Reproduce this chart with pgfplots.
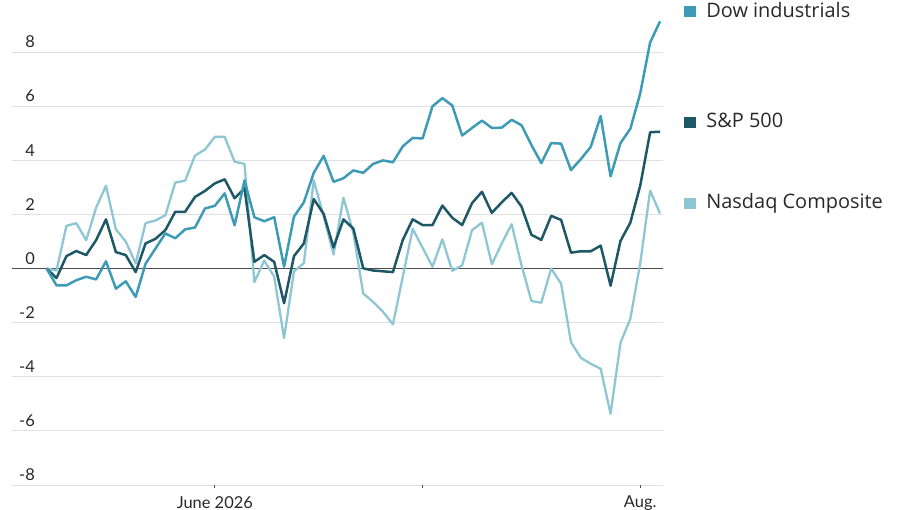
\documentclass[border=0pt]{standalone}
\usepackage{fontspec}
\setmainfont{Lato}
\newfontfamily\legfont{Open Sans}
\usepackage{pgfplots}
\usepackage{pgfplotstable}
\pgfplotsset{compat=1.18}
\definecolor{dow}{RGB}{61,155,181}
\definecolor{spx}{RGB}{30,88,102}
\definecolor{nas}{RGB}{142,198,212}
\definecolor{txt}{RGB}{40,40,40}

\pgfplotstableread{
i dow spx nas
0 0 0 0
1 -0.62 -0.35 -0.07
2 -0.62 0.46 1.58
3 -0.43 0.65 1.68
4 -0.30 0.50 1.05
5 -0.40 1.05 2.25
6 0.27 1.82 3.06
7 -0.74 0.61 1.45
8 -0.47 0.50 1.00
9 -1.05 -0.13 0.19
10 0.18 0.93 1.68
11 0.74 1.10 1.78
12 1.30 1.42 1.97
13 1.12 2.10 3.18
14 1.45 2.10 3.25
15 1.52 2.65 4.18
16 2.22 2.87 4.40
17 2.32 3.15 4.87
18 2.78 3.30 4.87
19 1.60 2.60 3.95
20 3.26 2.97 3.87
21 1.90 0.25 -0.50
22 1.75 0.50 0.30
23 1.90 0.25 -0.30
24 0.07 -1.28 -2.57
25 1.92 0.46 -0.10
26 2.45 0.93 0.20
27 3.54 2.57 3.26
28 4.17 2.02 1.94
29 3.21 0.78 0.52
30 3.34 1.82 2.62
31 3.63 1.48 1.32
32 3.54 0.01 -0.92
33 3.87 -0.07 -1.23
34 4.00 -0.10 -1.60
35 3.93 -0.13 -2.06
36 4.52 1.06 -0.30
37 4.83 1.82 1.47
38 4.81 1.61 0.77
39 6.00 1.61 0.07
40 6.30 2.33 1.08
41 6.03 1.88 -0.08
42 4.92 1.61 0.12
43 5.20 2.42 1.42
44 5.47 2.84 1.70
45 5.20 2.06 0.16
46 5.21 2.45 0.93
47 5.50 2.80 1.64
48 5.30 2.29 0.12
49 4.57 1.25 -1.20
50 3.90 1.06 -1.26
51 4.64 1.95 0.00
52 4.62 1.80 -0.56
53 3.64 0.59 -2.72
54 4.05 0.64 -3.30
55 4.50 0.64 -3.52
56 5.64 0.85 -3.70
57 3.41 -0.63 -5.37
58 4.64 1.02 -2.75
59 5.17 1.70 -1.85
60 6.48 3.07 0.20
61 8.36 5.04 2.88
62 9.14 5.06 2.04
}\data

\begin{document}
\begin{tikzpicture}
\path[use as bounding box] (0,0) rectangle (900bp,510bp);
\begin{axis}[
  at={(12bp,25bp)}, anchor=south west,
  scale only axis, width=651bp, height=484.2bp,
  xmin=-3.5, xmax=62.3, ymin=-8, ymax=9.9,
  axis line style={draw=none},
  xtick={17,38,60}, xticklabels={June 2026,,Aug.},
  ytick={-8,-6,-4,-2,2,4,6,8},
  extra y ticks={0},
  ymajorgrids,
  grid style={draw=black!12, line width=0.9bp},
  extra y tick style={grid style={draw=black!70, line width=1.2bp}},
  tick label style={font=\fontsize{16.5}{16.5}\selectfont, text=txt},
  /pgf/number format/assume math mode=true,
  yticklabel style={anchor=south east, inner sep=0pt, xshift=26bp, yshift=4bp},
  xticklabel style={anchor=north, inner sep=0pt, yshift=-8bp},
  xtick pos=left, tick align=outside, major tick length=3bp,
  x tick style={draw=black!70, line width=0.9bp},
  ytick style={draw=none},
  clip=false,
]
\addplot[nas, line width=2.3bp, line join=round] table[x=i, y=nas] {\data};
\addplot[spx, line width=2.5bp, line join=round] table[x=i, y=spx] {\data};
\addplot[dow, line width=2.5bp, line join=round] table[x=i, y=dow] {\data};

\node[anchor=base west, inner sep=0pt, text=txt, font=\legfont\fontsize{20}{20}\selectfont]
  at (axis cs:64.44,9.30) {\textcolor{dow}{\rule{12bp}{11bp}}\hspace{10bp}Dow industrials};
\node[anchor=base west, inner sep=0pt, text=txt, font=\legfont\fontsize{20}{20}\selectfont]
  at (axis cs:64.44,5.21) {\textcolor{spx}{\rule{12bp}{11bp}}\hspace{10bp}S\&P 500};
\node[anchor=base west, inner sep=0pt, text=txt, font=\legfont\fontsize{20}{20}\selectfont]
  at (axis cs:64.44,2.22) {\textcolor{nas}{\rule{12bp}{11bp}}\hspace{10bp}Nasdaq Composite};
\end{axis}
\end{tikzpicture}
\end{document}
